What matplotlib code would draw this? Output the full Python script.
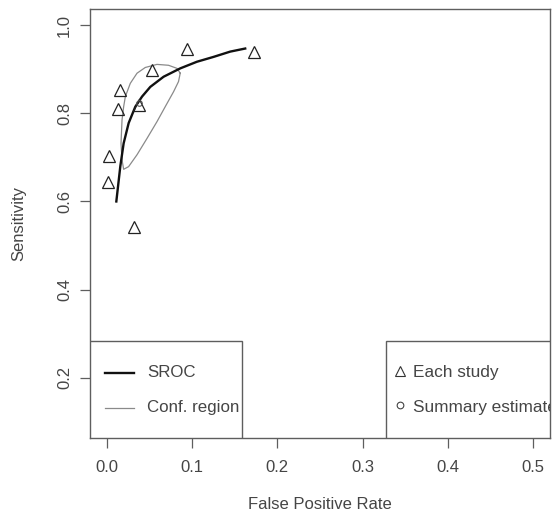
import matplotlib
matplotlib.use("Agg")
import matplotlib.pyplot as plt
from matplotlib.patches import Rectangle
from matplotlib.lines import Line2D

# Individual studies (FPR, sensitivity)
study_fpr = [0.094, 0.172, 0.053, 0.015, 0.013, 0.038, 0.002, 0.001, 0.032]
study_sens = [0.947, 0.940, 0.898, 0.853, 0.809, 0.820, 0.703, 0.645, 0.541]

# Summary estimate
summary_fpr = [0.037]
summary_sens = [0.823]

# SROC curve
sroc_fpr = [0.0109, 0.0156, 0.0195, 0.0254, 0.0332, 0.0411, 0.0508, 0.0664,
            0.0860, 0.1055, 0.1250, 0.1446, 0.1622]
sroc_sens = [0.600, 0.680, 0.732, 0.778, 0.815, 0.838, 0.860, 0.883,
             0.902, 0.917, 0.928, 0.940, 0.947]

# Confidence region (closed curve)
conf_fpr = [0.0859, 0.0839, 0.0781, 0.0683, 0.0586, 0.0469, 0.0352, 0.0253,
            0.0195, 0.0176, 0.0164, 0.0176, 0.0195, 0.0215, 0.0273, 0.0352,
            0.0449, 0.0586, 0.0722, 0.0821, 0.0859]
conf_sens = [0.891, 0.872, 0.849, 0.815, 0.781, 0.743, 0.706, 0.679,
             0.673, 0.694, 0.732, 0.785, 0.815, 0.838, 0.868, 0.891,
             0.904, 0.911, 0.909, 0.902, 0.891]

x_ticks = [0.0, 0.1, 0.2, 0.3, 0.4, 0.5]
y_ticks = [0.2, 0.4, 0.6, 0.8, 1.0]

text_col = "#454545"
frame_col = "#5e5e5e"
plt.rcParams['font.family'] = ['Liberation Sans', 'DejaVu Sans']

fig = plt.figure(figsize=(5.52, 5.23), dpi=100)
ax = fig.add_axes([90/552, 1-437.7/523, 460/552, 428.4/523])

ax.plot(conf_fpr, conf_sens, color="#8a8a8a", lw=0.9, zorder=2)
ax.plot(sroc_fpr, sroc_sens, color="#111111", lw=1.7, zorder=3)
ax.plot(study_fpr, study_sens, linestyle="none", marker="^", ms=8.5,
        mfc="none", mec="#222222", mew=0.9, zorder=4)
ax.plot(summary_fpr, summary_sens, linestyle="none", marker="o", ms=4,
        mfc="none", mec="#555555", mew=0.8, zorder=4)

ax.set_xlim(-0.02, 0.52)
ax.set_ylim(0.064, 1.036)
ax.set_xticks(x_ticks)
ax.set_xticklabels([f"{t:.1f}" for t in x_ticks])
ax.set_yticks(y_ticks)
ax.set_yticklabels([f"{t:.1f}" for t in y_ticks])

for s in ax.spines.values():
    s.set_color(frame_col)
    s.set_linewidth(1.0)

ax.tick_params(axis="both", direction="out", length=7, width=0.9,
               color=frame_col, labelcolor=text_col, labelsize=12)
ax.tick_params(axis="x", pad=9)
ax.tick_params(axis="y", pad=6, labelrotation=90)
for lab in ax.get_yticklabels():
    lab.set_verticalalignment("center")

ax.set_xlabel("False Positive Rate", fontsize=12, color=text_col)
ax.set_ylabel("Sensitivity", fontsize=12, color=text_col)
ax.xaxis.set_label_coords(0.5, -0.157)
ax.xaxis.label.set_verticalalignment("center")
ax.yaxis.set_label_coords(-0.154, 0.5)
ax.yaxis.label.set_verticalalignment("center")

# Legend boxes
box_h = (437.7 - 340.7) / 428.4
left_w = (241.7 - 90) / 460
right_x = (385.7 - 90) / 460
ax.add_patch(Rectangle((0, 0), left_w, box_h, transform=ax.transAxes,
                       facecolor="white", edgecolor=frame_col, lw=1.0, zorder=5))
ax.add_patch(Rectangle((right_x, 0), 1 - right_x, box_h, transform=ax.transAxes,
                       facecolor="white", edgecolor=frame_col, lw=1.0, zorder=5))

y1 = 0.152
y2 = 0.070
ax.add_line(Line2D([0.0326, 0.0957], [y1, y1], transform=ax.transAxes,
                   color="#111111", lw=1.7, zorder=6))
ax.add_line(Line2D([0.0326, 0.0957], [y2, y2], transform=ax.transAxes,
                   color="#8a8a8a", lw=0.9, zorder=6))
ax.text(0.124, y1, "SROC", transform=ax.transAxes, fontsize=12.2,
        color=text_col, va="center", ha="left", zorder=6)
ax.text(0.124, y2, "Conf. region", transform=ax.transAxes, fontsize=12.2,
        color=text_col, va="center", ha="left", zorder=6)

ax.add_line(Line2D([0.674], [y1 + 0.004], transform=ax.transAxes, linestyle="none",
                   marker="^", ms=6.5, mfc="none", mec="#333333", mew=0.8, zorder=6))
ax.add_line(Line2D([0.674], [y2 + 0.006], transform=ax.transAxes, linestyle="none",
                   marker="o", ms=4.8, mfc="none", mec="#444444", mew=0.8, zorder=6))
ax.text(0.703, y1, "Each study", transform=ax.transAxes, fontsize=12.4,
        color=text_col, va="center", ha="left", zorder=6, clip_on=True)
ax.text(0.703, y2, "Summary estimate", transform=ax.transAxes, fontsize=12.4,
        color=text_col, va="center", ha="left", zorder=6, clip_on=True)

fig.savefig("out.png", dpi=100)
